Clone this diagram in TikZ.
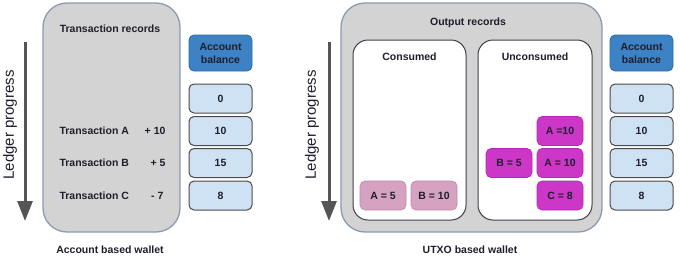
\documentclass[tikz,border=0pt]{standalone}
\usepackage{fontspec}
\setmainfont{Liberation Sans}
\usetikzlibrary{arrows.meta}
\definecolor{txt}{HTML}{1E1E2C}
\definecolor{grayfill}{HTML}{D3D3D3}
\definecolor{grayedge}{HTML}{8C9AB2}
\definecolor{hdrfill}{HTML}{3D82C4}
\definecolor{hdredge}{HTML}{2E6AA6}
\definecolor{valfill}{HTML}{CFE2F3}
\definecolor{valedge}{HTML}{4A4A4A}
\definecolor{usedfill}{HTML}{D6A2C2}
\definecolor{usededge}{HTML}{C08AAA}
\definecolor{utxofill}{HTML}{CC37C8}
\definecolor{utxoedge}{HTML}{B02AAE}
\definecolor{arrowcol}{HTML}{555555}
\tikzset{
  every node/.style={text=txt, font=\fontsize{10.5}{12}\selectfont\bfseries},
  panel/.style={draw=grayedge, fill=grayfill, line width=1.3pt, rounded corners=24pt, inner sep=0pt},
  subpanel/.style={draw=txt!85, fill=white, line width=1pt, rounded corners=15pt, inner sep=0pt},
  hdrbox/.style={draw=hdredge, fill=hdrfill, line width=0.8pt, rounded corners=5pt, minimum width=63pt, minimum height=36pt, align=center, inner sep=0pt, font=\fontsize{10.5}{13}\selectfont\bfseries},
  valbox/.style={draw=valedge, fill=valfill, line width=1pt, rounded corners=5pt, minimum width=63pt, minimum height=29pt, inner sep=0pt},
  usedchip/.style={draw=usededge, fill=usedfill, line width=0.6pt, rounded corners=5pt, minimum width=46pt, minimum height=29pt, inner sep=0pt},
  utxochip/.style={draw=utxoedge, fill=utxofill, line width=0.6pt, rounded corners=5pt, minimum width=46pt, minimum height=29pt, inner sep=0pt},
  ledger/.style={rotate=90, font=\fontsize{15}{18}\selectfont},
  progarrow/.style={draw=arrowcol, line width=3pt, -{Triangle[width=15pt,length=20pt]}},
}
\begin{document}
\begin{tikzpicture}[x=1pt,y=-1pt]
\useasboundingbox (0,0) rectangle (680,260);
% ---------- left: account based wallet ----------
\node[panel, minimum width=137pt, minimum height=229pt] (lpanel) at (111.5,117.5) {};
\node (ltitle) at (110,29) {Transaction records};
\node[hdrbox] (lhdr) at (220.5,53) {Account\\balance};
\node[valbox] (lv0) at (220.5,98.5) {0};
\node[valbox] (lv1) at (220.5,131) {10};
\node[valbox] (lv2) at (220.5,163) {15};
\node[valbox] (lv3) at (220.5,195.5) {8};
\node[anchor=west] (ta) at (56,131) {Transaction A};
\node[anchor=west] (tb) at (56,163) {Transaction B};
\node[anchor=west] (tc) at (56,196) {Transaction C};
\node[anchor=east] (aa) at (169,131) {+ 10};
\node[anchor=east] (ab) at (169,163) {+ 5};
\node[anchor=east] (ac) at (167,196) {- 7};
\coordinate (la1) at (25,42);
\coordinate (la2) at (25,221);
\draw[progarrow] (la1) -- (la2);
\node[ledger] (lled) at (10,125) {Ledger progress};
\node (lcap) at (110,250) {Account based wallet};
% ---------- right: UTXO based wallet ----------
\node[panel, minimum width=261pt, minimum height=229pt] (rpanel) at (471.5,117.5) {};
\node (rtitle) at (468,23) {Output records};
\node[subpanel, minimum width=113pt, minimum height=180pt] (cons) at (409.5,130) {};
\node[subpanel, minimum width=114pt, minimum height=180pt] (uncons) at (535,130) {};
\node (constitle) at (409.5,57) {Consumed};
\node (unctitle) at (535,57) {Unconsumed};
\node[usedchip] (ca) at (383,195.5) {A = 5};
\node[usedchip] (cb) at (434,195.5) {B = 10};
\node[utxochip] (ua1) at (560,131) {A =10};
\node[utxochip] (ub) at (509,163) {B = 5};
\node[utxochip] (ua2) at (560,163) {A = 10};
\node[utxochip] (uc) at (560,195.5) {C = 8};
\node[hdrbox] (rhdr) at (641.5,53) {Account\\balance};
\node[valbox] (rv0) at (641.5,98.5) {0};
\node[valbox] (rv1) at (641.5,131) {10};
\node[valbox] (rv2) at (641.5,163) {15};
\node[valbox] (rv3) at (641.5,195.5) {8};
\coordinate (ra1) at (329,42);
\coordinate (ra2) at (329,221);
\draw[progarrow] (ra1) -- (ra2);
\node[ledger] (rled) at (312,125) {Ledger progress};
\node (rcap) at (470,250) {UTXO based wallet};
\end{tikzpicture}
\end{document}
